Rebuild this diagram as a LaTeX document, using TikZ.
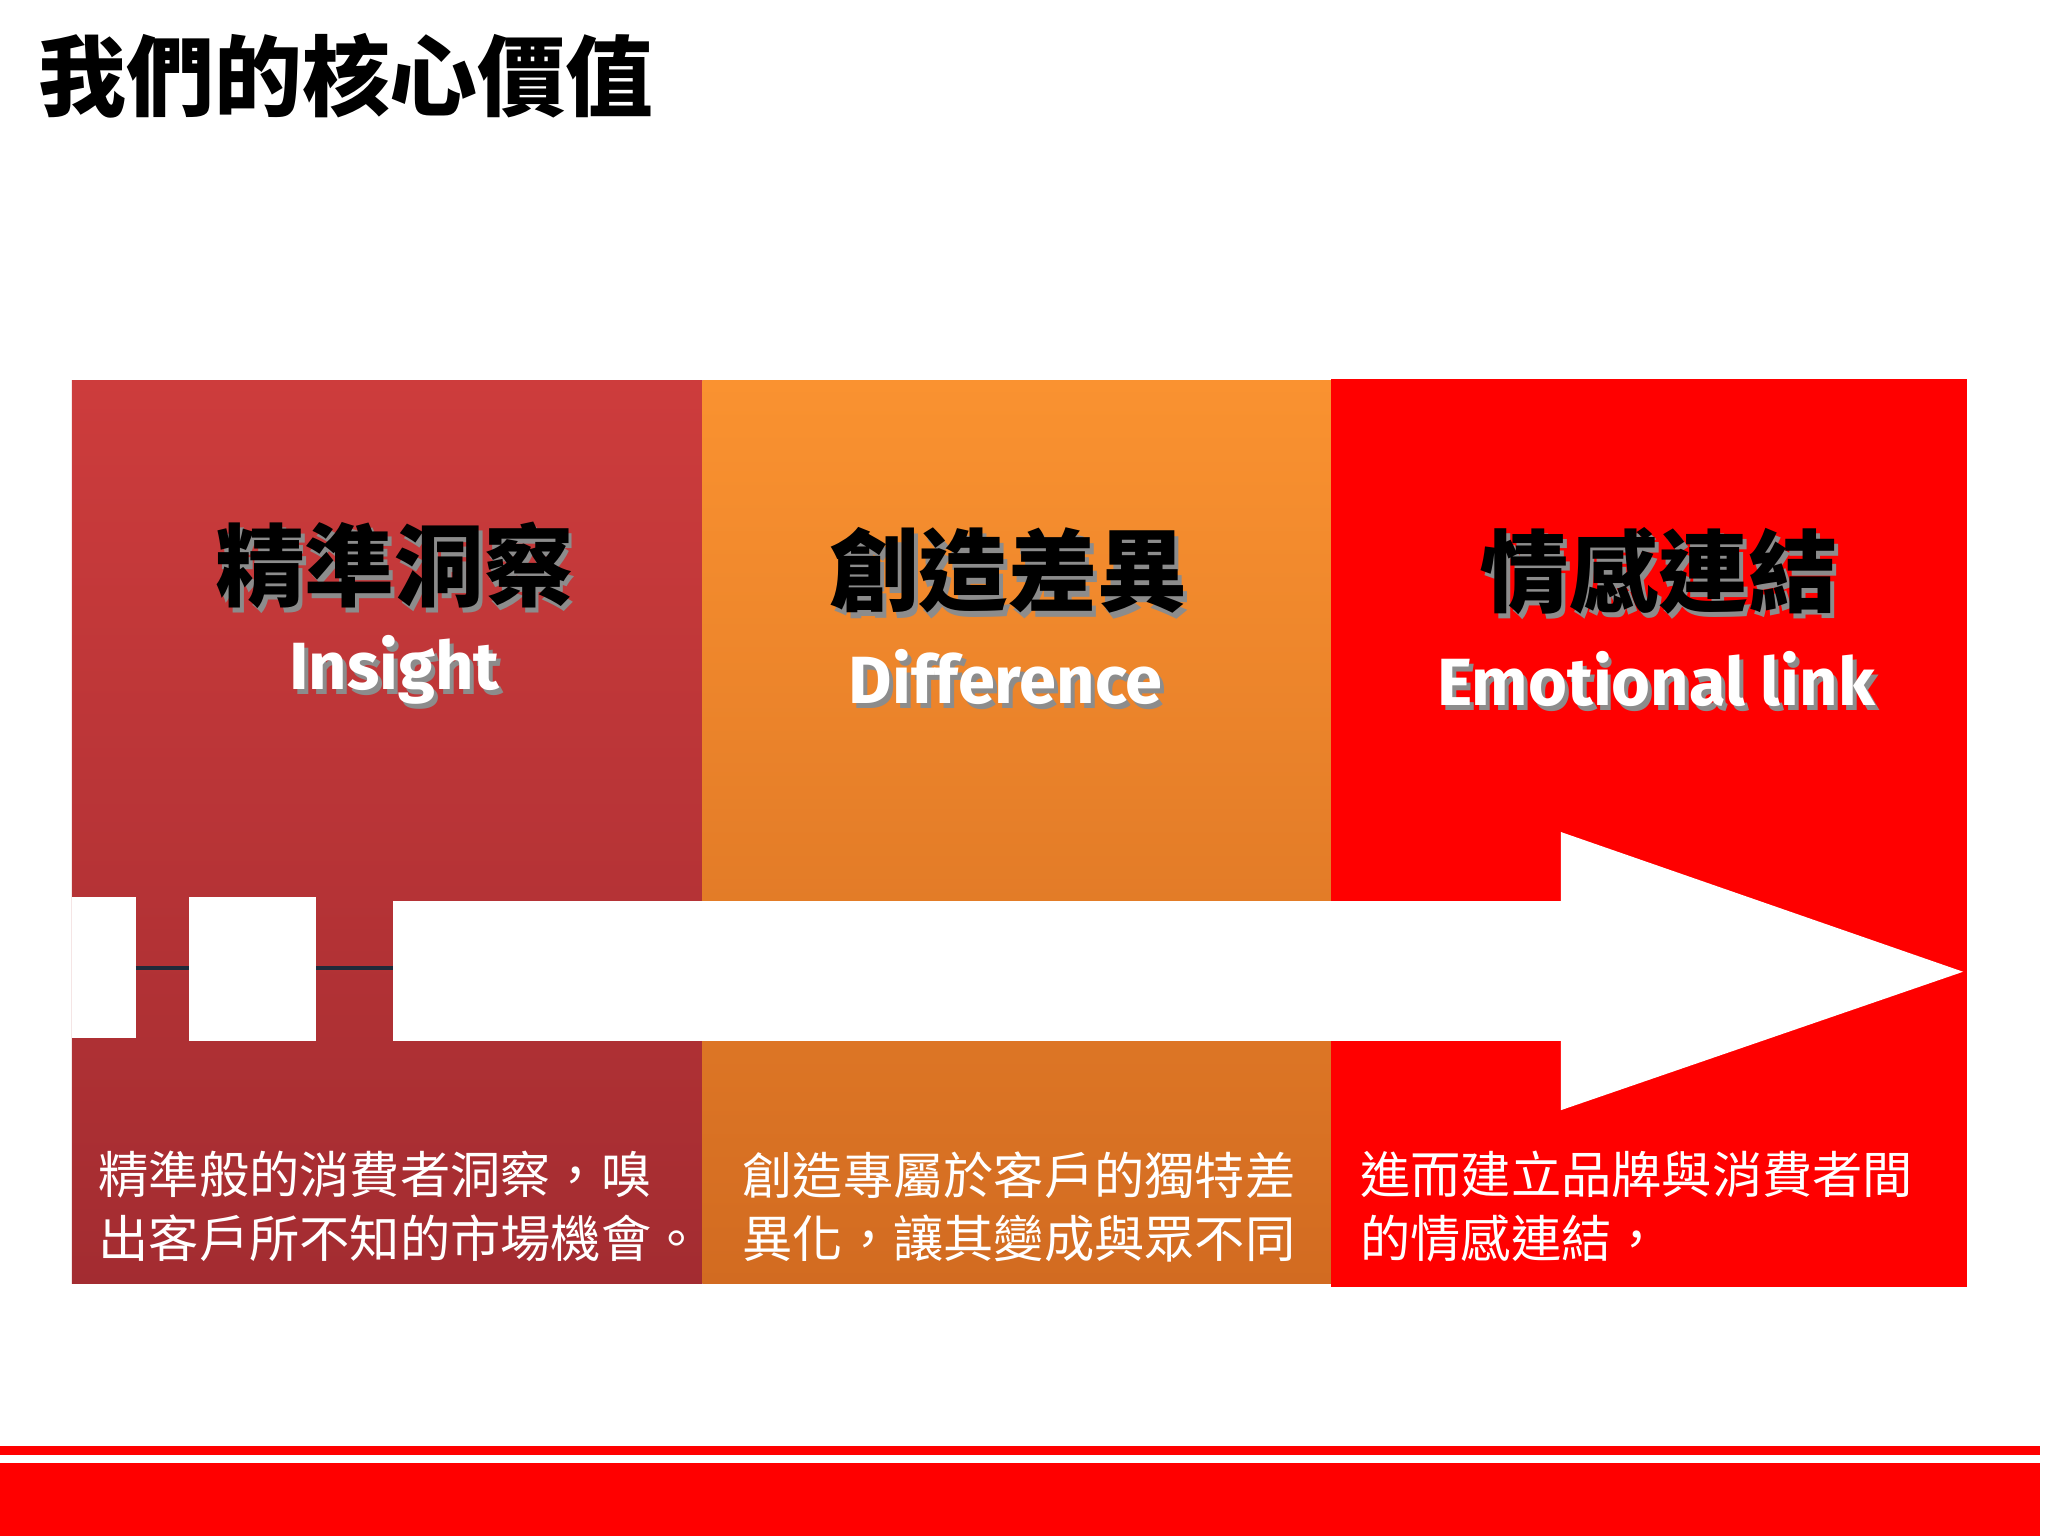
\documentclass[tikz,border=0pt]{standalone}
\usepackage{fontspec}
\newfontfamily\cjk{Noto Sans CJK TC}
\newfontfamily\lat{Fira Sans}
\definecolor{pA}{HTML}{CD3C3C}\definecolor{pB}{HTML}{A32C31}
\definecolor{oA}{HTML}{FA9230}\definecolor{oB}{HTML}{D26B21}
\definecolor{lk}{HTML}{1F2A3A}
\begin{document}
\begin{tikzpicture}[x=0.01306cm,y=-0.01306cm,
 head/.style={font=\cjk\bfseries\fontsize{25.5}{28}\selectfont,text=black},
 headsh/.style={font=\cjk\bfseries\fontsize{25.5}{28}\selectfont,text=black!45},
 eng/.style={font=\lat\bfseries\fontsize{19}{22}\selectfont,text=white},
 engsh/.style={font=\lat\bfseries\fontsize{19}{22}\selectfont,text=black!45},
 body/.style={font=\cjk\fontsize{14.3}{18}\selectfont,text=white,anchor=north west,align=left}]
\useasboundingbox (0,0) rectangle (1568,1176);
\fill[white] (0,0) rectangle (1568,1176);
\node[font=\cjk\bfseries\fontsize{25}{28}\selectfont,anchor=west] (title) at (20,58) {我們的核心價值};
\shade[top color=pA,bottom color=pB] (55,291) rectangle (538,983);
\shade[top color=oA,bottom color=oB] (538,291) rectangle (1019,983);
\fill[red] (1019,290) rectangle (1506,985);
% arrow
\fill[white] (301,690) -- (1195,690) -- (1195,637) -- (1503,744) -- (1195,850) -- (1195,797) -- (301,797) -- cycle;
\fill[white] (55,687) rectangle (104,795);
\fill[white] (145,687) rectangle (242,797);
\coordinate (l1) at (104,741);\coordinate (l2) at (145,741);
\coordinate (l3) at (242,741);\coordinate (l4) at (301,741);
\draw[lk,line width=1.2pt] (l1) -- (l2);
\draw[lk,line width=1.2pt] (l3) -- (l4);
% headings
\foreach \x/\y/\t/\n in {302/433/精準洞察/h1,772/437/創造差異/h2,1270/437/情感連結/h3}{
 \node[headsh] at (\x+3,\y+4) {\t};
 \node[head] (\n) at (\x,\y) {\t};}
\foreach \x/\y/\t/\n in {302/513/Insight/e1,770/518/Difference/e2,1268/520/Emotional link/e3}{
 \node[engsh] at (\x+3,\y+4) {\t};
 \node[eng] (\n) at (\x,\y) {\t};}
\node[body] (b1) at (66,872) {精準般的消費者洞察，嗅\\出客戶所不知的市場機會。};
\node[body] (b2) at (559,872) {創造專屬於客戶的獨特差\\異化，讓其變成與眾不同};
\node[body] (b3) at (1032,872) {進而建立品牌與消費者間\\的情感連結，};
% bottom bars
\fill[red] (0,1107) rectangle (1562,1114);
\fill[red] (0,1120) rectangle (1562,1176);
\end{tikzpicture}
\end{document}
